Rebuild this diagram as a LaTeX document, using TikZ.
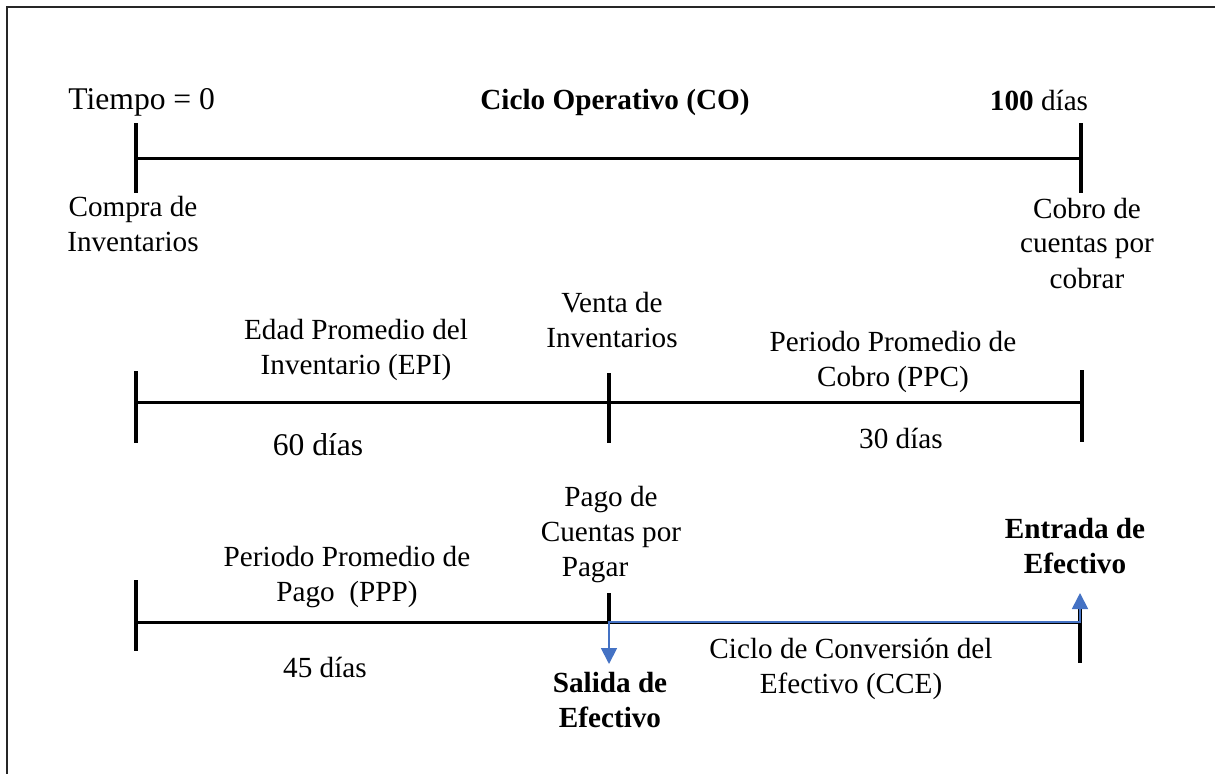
\documentclass[tikz,border=0pt]{standalone}
\usepackage{fontspec}
\setmainfont{Liberation Serif}
\usepackage{xcolor}
\usetikzlibrary{arrows.meta, positioning}

\definecolor{flowblue}{RGB}{68,114,196}

\begin{document}
\begin{tikzpicture}[
  x=0.5pt, y=-0.5pt,
  axis/.style={line width=1.5pt, draw=black},
  tickmark/.style={line width=1.6pt, draw=black},
  lbl/.style={
    inner sep=0pt, align=center,
    font=\fontsize{14.6}{17.5}\selectfont
  },
  lblb/.style={lbl, font=\fontsize{14.6}{17.5}\selectfont\bfseries},
  lblbig/.style={lbl, font=\fontsize{15.8}{19}\selectfont},
  cashflow/.style={
    draw=flowblue, line width=0.9pt,
    {Triangle[length=8pt,width=8pt]}-{Triangle[length=8pt,width=8pt]}
  },
]

\useasboundingbox (0,0) rectangle (1215,773);

%%% Frame (top and left edges only)
\draw[line width=0.7pt, black!85] (7,800) -- (7,7) -- (1240,7);

%%% Timeline 1: ciclo operativo
\coordinate (coL) at (136,158);
\coordinate (coR) at (1081,158);
\draw[axis] (coL) -- (coR);
\draw[tickmark] (136,123) -- (136,193);
\draw[tickmark] (1081,123) -- (1081,193);

\node[lblbig, anchor=west] (tiempo) at (68,102) {Tiempo = 0};
\node[lblb] (co) at (615,102) {Ciclo Operativo (CO)};
\node[lbl] (cien) at (1039,100) {\textbf{100} días};
\node[lbl] (compra) at (133,224) {Compra de\\Inventarios};
\node[lbl] (cobro) at (1087,243) {Cobro de\\cuentas por\\cobrar};

%%% Timeline 2: EPI + PPC
\coordinate (epiL) at (136,402);
\coordinate (epiR) at (1082,402);
\draw[axis] (epiL) -- (epiR);
\draw[tickmark] (136,371) -- (136,443);
\draw[tickmark] (609,373) -- (609,443);
\draw[tickmark] (1082,370) -- (1082,442);

\node[lbl] (venta) at (612,320) {Venta de\\Inventarios};
\node[lbl] (epi) at (356,350) {Edad Promedio del\\Inventario (EPI)};
\node[lbl] (ppc) at (893,362) {Periodo Promedio de\\Cobro (PPC)};
\node[lblbig] (sesenta) at (318,445) {60 días};
\node[lbl] (treinta) at (901,438) {30 días};

%%% Timeline 3: PPP + CCE
\coordinate (pppL) at (136,622);
\coordinate (cceL) at (609,622);
\coordinate (cceR) at (1080,622);
\coordinate (salTip) at (609,664);
\coordinate (entTip) at (1080,593);
\draw[axis] (pppL) -- (cceR);
\draw[tickmark] (136,580) -- (136,651);
\draw[tickmark] (609,593) -- (cceL);
\draw[tickmark] (1080,600) -- (1080,663);
\draw[cashflow] (salTip) -- (cceL) -- (cceR) -- (entTip);

\node[lbl] (pago) at (611,535) {Pago de\\Cuentas por\\Pagar\hspace*{16pt}};
\node[lbl] (ppp) at (347,577) {Periodo Promedio de\\Pago\ \ (PPP)};
\node[lbl] (cuarenta) at (325,667) {45 días};
\node[lblb] (salida) at (610,700) {Salida de\\Efectivo};
\node[lbl] (cce) at (851,669) {Ciclo de Conversión del\\Efectivo (CCE)};
\node[lblb] (entrada) at (1075,546) {Entrada de\\Efectivo};

\end{tikzpicture}
\end{document}
